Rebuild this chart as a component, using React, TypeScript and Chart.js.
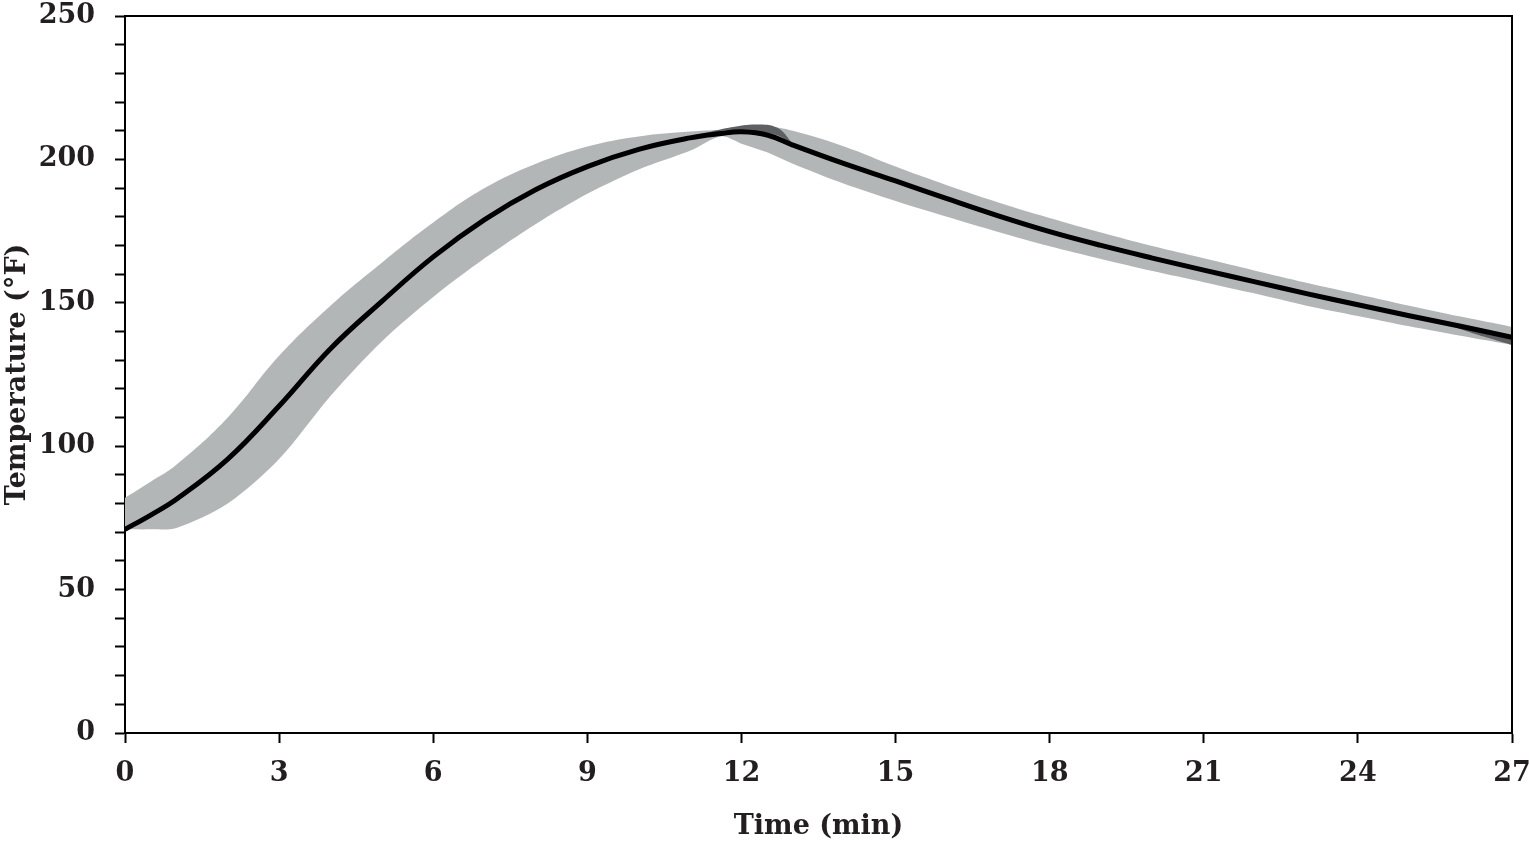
import React, { useRef, useEffect } from 'react';
import { Chart, registerables } from 'chart.js';

Chart.register(...registerables);

// time in minutes
const times = [0, 0.5, 1, 2, 3, 4, 5, 6, 7, 8, 9, 10, 11, 11.6, 12, 12.5, 13, 14, 15, 16, 17, 18, 19, 20, 21, 22, 23, 24, 25, 26, 27];
// mean temperature (°F)
const meanTemp = [71, 76, 81.5, 95.5, 114, 134, 150.5, 166, 179, 189.5, 197.5, 203.5, 207.5, 209, 209.6, 208.5, 205, 198.5, 192.5, 186.3, 180.3, 174.8, 170, 165.6, 161.4, 157.3, 153.2, 149.3, 145.5, 141.8, 138];
// upper and lower edge of the shaded range
const upperTemp = [82, 87.6, 93.5, 110, 131.5, 149, 164, 178, 190, 198.5, 204.5, 208, 209.7, 210.3, 211.2, 211.5, 210, 204.5, 197.5, 191, 185, 179.6, 174.5, 169.8, 165.5, 161.2, 157, 153, 149, 145.2, 141.6];
const lowerTemp = [71, 71, 71.5, 80, 95.5, 117.5, 136.5, 152, 165.5, 177.5, 188, 196.5, 203, 208, 205.5, 202.5, 198.5, 191.5, 185.5, 180, 174.7, 169.7, 165.3, 161.1, 157.2, 153.2, 149, 145.4, 141.8, 138.5, 135.3];

// darker overlap slivers near the peak and at the end
const peakDarkTimes = [11.3, 11.8, 12.3, 12.7, 13.0];
const peakDarkTop = [209.2, 211.2, 212.2, 211.0, 205.5];
const peakDarkBottom = [209.0, 209.4, 209.6, 208.4, 205.0];
const endDarkTimes = [25.6, 26.3, 27];
const endDarkTop = [143.3, 140.6, 138.0];
const endDarkBottom = [143.3, 139.0, 135.3];

const xTickValues = [0, 3, 6, 9, 12, 15, 18, 21, 24, 27];

const FONT = '"DejaVu Serif", serif';
const TEXT = '#231f20';
const LIGHT = '#b3b6b7';
const DARK = '#5e6163';

const toPoints = (xs: number[], ys: number[]) => xs.map((t, i) => ({ x: t, y: ys[i] }));

// draws the top and right edges of the plot box
const boxPlugin = {
  id: 'box',
  afterDatasetsDraw(chart: any) {
    const { ctx, chartArea } = chart;
    ctx.save();
    ctx.strokeStyle = '#000';
    ctx.lineWidth = 2;
    ctx.beginPath();
    ctx.moveTo(chartArea.left, chartArea.top);
    ctx.lineTo(chartArea.right, chartArea.top);
    ctx.lineTo(chartArea.right, chartArea.bottom);
    ctx.stroke();
    ctx.restore();
  },
};

const edge = (xs: number[], ys: number[], fill: any, color: string, order: number, tension = 0.4) => ({
  data: toPoints(xs, ys),
  borderWidth: 0,
  borderColor: 'rgba(0,0,0,0)',
  backgroundColor: color,
  pointRadius: 0,
  fill,
  tension,
  order,
});

const App: React.FC = () => {
  const canvasRef = useRef<HTMLCanvasElement>(null);

  useEffect(() => {
    if (!canvasRef.current) return;
    const chart = new Chart(canvasRef.current, {
      type: 'line',
      data: {
        datasets: [
          {
            label: 'Mean',
            data: toPoints(times, meanTemp),
            borderColor: '#000',
            borderWidth: 5,
            pointRadius: 0,
            fill: false,
            tension: 0.4,
            order: 0,
          },
          { label: 'Upper', ...edge(times, upperTemp, '+1', LIGHT, 3) },
          { label: 'Lower', ...edge(times, lowerTemp, false, LIGHT, 4, 0.3) },
          { label: 'Peak top', ...edge(peakDarkTimes, peakDarkTop, '+1', DARK, 1) },
          { label: 'Peak bottom', ...edge(peakDarkTimes, peakDarkBottom, false, DARK, 1) },
          { label: 'End top', ...edge(endDarkTimes, endDarkTop, '+1', DARK, 2, 0.2) },
          { label: 'End bottom', ...edge(endDarkTimes, endDarkBottom, false, DARK, 2, 0.2) },
        ],
      },
      options: {
        animation: false,
        responsive: true,
        maintainAspectRatio: false,
        layout: { padding: 0 },
        plugins: {
          legend: { display: false },
          tooltip: { enabled: false },
        },
        scales: {
          x: {
            type: 'linear',
            min: 0,
            max: 27,
            afterFit: (scale: any) => {
              scale.height = 113;
              scale.paddingLeft = 0;
              scale.paddingRight = 17;
            },
            afterBuildTicks: (scale: any) => {
              scale.ticks = xTickValues.map((v) => ({ value: v }));
            },
            border: { display: true, color: '#000', width: 2 },
            grid: { drawOnChartArea: false, drawTicks: true, tickLength: 10, tickWidth: 2, tickColor: '#000' },
            ticks: {
              color: TEXT,
              padding: 15,
              maxRotation: 0,
              font: { family: FONT, size: 27, weight: 'bold' },
            },
            title: {
              display: true,
              text: 'Time (min)',
              color: TEXT,
              padding: { top: 0, bottom: 3 },
              font: { family: FONT, size: 27, weight: 'bold' },
            },
          },
          y: {
            type: 'linear',
            min: 0,
            max: 250,
            afterFit: (scale: any) => {
              scale.width = 125;
              scale.paddingTop = 16;
              scale.paddingBottom = 0;
            },
            border: { display: true, color: '#000', width: 2 },
            grid: { drawOnChartArea: false, drawTicks: true, tickLength: 10, tickWidth: 2, tickColor: '#000' },
            ticks: {
              stepSize: 10,
              autoSkip: false,
              color: TEXT,
              padding: 20,
              font: { family: FONT, size: 27, weight: 'bold' },
              callback: (v: any) => (Number(v) % 50 === 0 ? String(v) : ''),
            },
            title: {
              display: true,
              text: 'Temperature (°F)',
              color: TEXT,
              padding: { top: 2, bottom: 0 },
              font: { family: FONT, size: 27, weight: 'bold' },
            },
          },
        },
      },
      plugins: [boxPlugin],
    });
    return () => {
      chart.destroy();
    };
  }, []);

  return (
    <div style={{ position: 'fixed', left: 0, top: 0, width: 1529, height: 846, background: '#fff' }}>
      <canvas ref={canvasRef} />
    </div>
  );
};

export default App;
